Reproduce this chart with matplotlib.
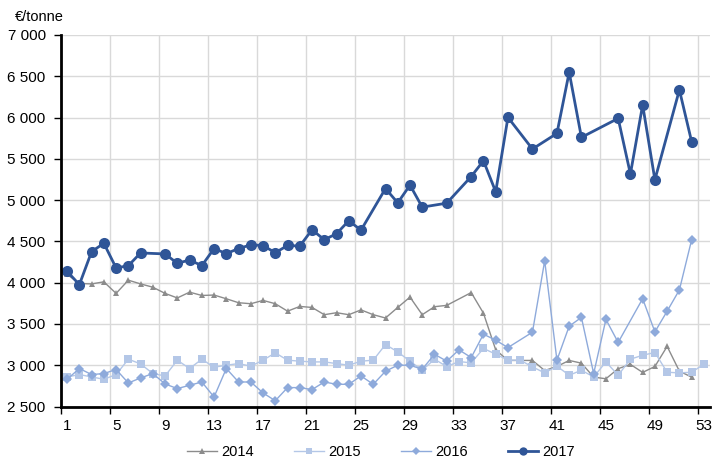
import matplotlib
matplotlib.use("Agg")
import matplotlib.pyplot as plt
from matplotlib.ticker import FixedLocator, FuncFormatter

plt.rcParams['font.family'] = ['Liberation Sans', 'DejaVu Sans']

weeks = list(range(1, 54))
years = ["2014", "2015", "2016", "2017"]

p2014 = [4100, 3990, 3985, 4010, 3870, 4030, 3985, 3945, 3870, 3815,
         3885, 3845, 3850, 3805, 3757, 3745, 3785, 3745, 3655, 3712,
         3700, 3612, 3636, 3612, 3670, 3612, 3572, 3700, 3825, 3612,
         3709, 3725, None, 3880, 3630, 3186, 3058, 3058, 3058, 2936,
         2985, 3058, 3025, 2856, 2836, 2958, 3010, 2913, 2985, 3228,
         2928, 2856, None]
p2015 = [2858, 2887, 2858, 2830, 2887, 3073, 3016, 2899, 2870, 3061,
         2960, 3073, 2976, 3000, 3020, 2988, 3061, 3150, 3061, 3049,
         3040, 3040, 3020, 3000, 3049, 3061, 3251, 3161, 3049, 2939,
         3073, 2984, 3045, 3028, 3203, 3134, 3061, 3061, 2980, 2907,
         2988, 2879, 2939, 2858, 3040, 2879, 3073, 3121, 3154, 2915,
         2907, 2915, 3012]
p2016 = [2830, 2960, 2887, 2899, 2948, 2785, 2846, 2899, 2773, 2717,
         2757, 2797, 2615, 2960, 2797, 2797, 2664, 2570, 2729, 2729,
         2705, 2797, 2769, 2769, 2870, 2769, 2927, 3000, 3000, 2951,
         3133, 3049, 3186, 3093, 3376, 3303, 3214, None, 3400, 4265,
         3061, 3473, 3579, 2899, 3555, 3276, None, 3806, 3404, 3655,
         3912, 4519, None]
p2017 = [4137, 3976, 4376, 4477, 4178, 4206, 4360, None, 4348, 4234,
         4275, 4206, 4413, 4352, 4413, 4458, 4450, 4362, 4451, 4443,
         4641, 4520, 4593, 4750, 4636, None, 5140, 4967, 5182, 4915,
         None, 4963, None, 5286, 5477, 5101, 6002, None, 5619, None,
         5808, 6549, 5760, None, None, 5990, 5316, 6153, 5246, None,
         6335, 5708, None]

series = [p2014, p2015, p2016, p2017]
colors = ["#8c8c8c", "#b4c7e7", "#8eaadb", "#2f5597"]
markers = ["^", "s", "D", "o"]
msizes = [5, 5.5, 5, 8]
lwidths = [1.0, 1.0, 1.0, 2.0]

fig = plt.figure(figsize=(7.12, 4.59), dpi=100)
ax = fig.add_axes([61 / 712, 52.5 / 459, 649 / 712, 371.5 / 459])

for name, vals, c, m, ms, lw in zip(years, series, colors, markers, msizes, lwidths):
    xs = [w for w, v in zip(weeks, vals) if v is not None]
    ys = [v for v in vals if v is not None]
    ax.plot(xs, ys, color=c, marker=m, markersize=ms, linewidth=lw,
            markeredgewidth=0, label=name)

ax.set_xlim(0.5, 53.5)
ax.set_ylim(2500, 7000)

# gridlines at category boundaries every 4 weeks
ax.xaxis.set_major_locator(FixedLocator([0.5 + 4 * k for k in range(14)]))
ax.xaxis.set_major_formatter(FuncFormatter(lambda v, p: ""))
ax.xaxis.set_minor_locator(FixedLocator(weeks[::4]))
ax.xaxis.set_minor_formatter(FuncFormatter(lambda v, p: f"{int(round(v))}"))
ax.tick_params(axis='x', which='major', length=5, width=1, color='#000000', direction='out')
ax.tick_params(axis='x', which='minor', length=0, pad=9, labelsize=11, labelcolor='#000000')

ax.set_yticks(list(range(2500, 7001, 500)))
ax.yaxis.set_major_formatter(FuncFormatter(lambda v, p: f"{int(v):,}".replace(",", " ")))
ax.tick_params(axis='y', length=5, width=1, pad=6, labelsize=11, labelcolor='#000000')

ax.grid(True, which='major', color='#d9d9d9', linewidth=1)
ax.set_axisbelow(True)

for s in ['top', 'right']:
    ax.spines[s].set_visible(False)
for s in ['left', 'bottom']:
    ax.spines[s].set_linewidth(2)
    ax.spines[s].set_color('#000000')

fig.text(15 / 712, 1 - 17 / 459, "€/tonne", fontsize=10.5, va='center', ha='left')

leg = fig.legend(loc='center', bbox_to_anchor=(381 / 712, 1 - 452 / 459), ncol=4,
                 frameon=False, fontsize=10.5, handlelength=2.05, columnspacing=2.75,
                 handletextpad=0.3, markerscale=0.75)

fig.savefig("out.png", dpi=100)
